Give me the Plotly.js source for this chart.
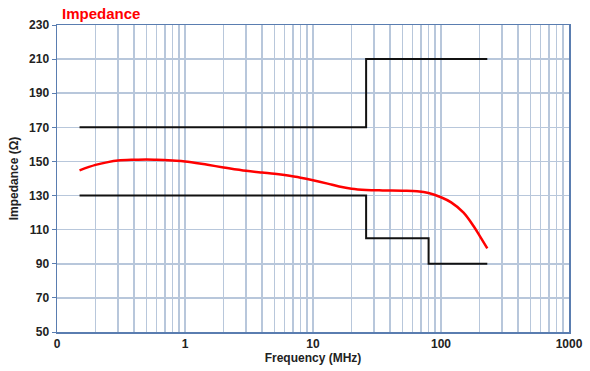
<!DOCTYPE html>
<html>
<head>
<meta charset="utf-8">
<script src="https://cdn.plot.ly/plotly-3.0.1.min.js"></script>
<style>html,body{margin:0;padding:0;background:#fff;}#chart{width:590px;height:371px;}</style>
</head>
<body>
<div id="chart"></div>
<script>
// Measured impedance curve
const freqMHz = [0.15, 0.2, 0.25, 0.3, 0.4, 0.5, 0.6, 0.8, 1, 1.5, 2, 3, 4, 5, 6, 8, 10, 13, 16, 20, 26, 35, 50, 65, 80, 100, 120, 150, 180, 200, 230];
const impedance = [144.8, 148, 149.6, 150.5, 151, 151.2, 151, 150.5, 150, 148, 146.5, 144.5, 143.5, 142.8, 142, 140.5, 139, 137, 135.3, 134, 133.3, 133, 132.8, 132.5, 131.5, 129, 126, 120, 112, 106.5, 99];
// Limit lines
const upperFreq = [0.15, 26, 26, 230];
const upperImp = [170, 170, 210, 210];
const lowerFreq = [0.15, 26, 26, 80, 80, 230];
const lowerImp = [130, 130, 105, 105, 90, 90];
// Axis ticks
const yTicks = [50, 70, 90, 110, 130, 150, 170, 190, 210, 230];
const decadeLabels = {0.1: '0', 1: '1', 10: '10', 100: '100', 1000: '1000'};

const xTickVals = [];
const xTickText = [];
[0.1, 1, 10, 100].forEach(d => {
  for (let m = 1; m <= 9; m++) {
    const v = +(d * m).toPrecision(3);
    xTickVals.push(v);
    xTickText.push(m === 1 ? decadeLabels[d] : '');
  }
});
xTickVals.push(1000); xTickText.push(decadeLabels[1000]);

const gridColor = '#b8c7db';
const axisColor = '#5a7db0';
const tickFont = {family: 'Liberation Sans, Arial, sans-serif', size: 12, color: '#222', weight: 'bold'};

const traces = [
  {x: upperFreq, y: upperImp, mode: 'lines', line: {color: '#111', width: 2}, hoverinfo: 'skip', showlegend: false},
  {x: lowerFreq, y: lowerImp, mode: 'lines', line: {color: '#111', width: 2}, hoverinfo: 'skip', showlegend: false},
  {x: freqMHz, y: impedance, mode: 'lines', line: {color: '#ff0000', width: 2.5, shape: 'spline', smoothing: 1}, showlegend: false}
];

const layout = {
  width: 590, height: 371,
  margin: {l: 57, r: 21, t: 25, b: 39},
  paper_bgcolor: '#fff', plot_bgcolor: '#fff',
  title: {text: 'Impedance', font: {family: 'Liberation Sans, Arial, sans-serif', size: 15, color: '#ff0000', weight: 'bold'},
          xref: 'container', yref: 'container', x: 62/590, xanchor: 'left', y: 1 - 14/371, yanchor: 'middle'},
  xaxis: {
    type: 'log', range: [-1, 3], autorange: false,
    tickmode: 'array', tickvals: xTickVals, ticktext: xTickText,
    showgrid: true, gridcolor: gridColor, gridwidth: 1.5,
    showline: true, linecolor: axisColor, linewidth: 1.5, mirror: true,
    ticks: '', zeroline: false, tickfont: tickFont,
    title: {text: 'Frequency (MHz)', font: tickFont, standoff: 0}
  },
  yaxis: {
    range: [50, 230], autorange: false,
    tickmode: 'array', tickvals: yTicks,
    showgrid: true, gridcolor: gridColor, gridwidth: 1.5,
    showline: true, linecolor: axisColor, linewidth: 1.5, mirror: true,
    ticks: 'outside', ticklen: 4, tickcolor: axisColor, zeroline: false, tickfont: tickFont,
    title: {text: 'Impedance (Ω)', font: tickFont, standoff: 8}
  }
};

Plotly.newPlot('chart', traces, layout, {displayModeBar: false, staticPlot: true});
</script>
</body>
</html>
